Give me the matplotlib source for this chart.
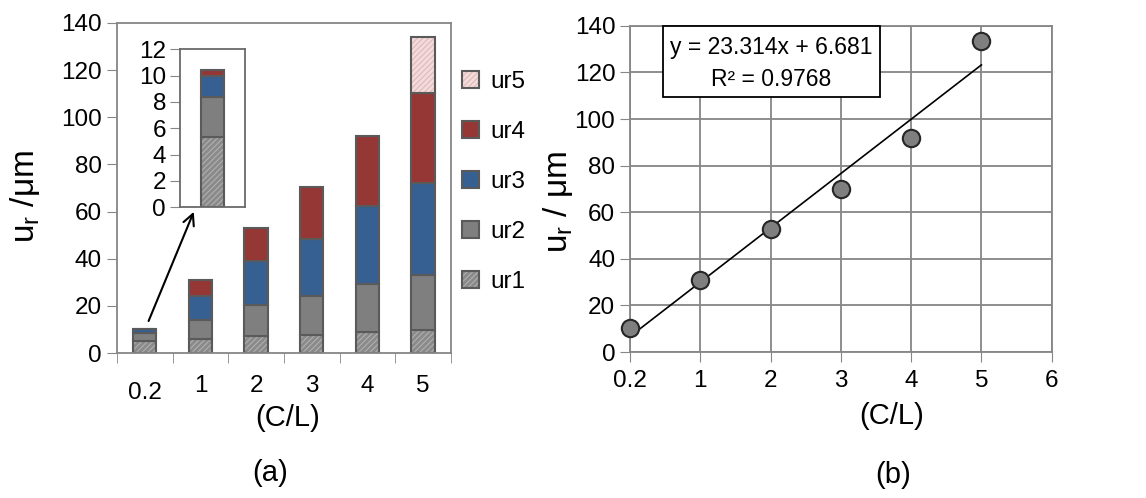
import numpy as np
import matplotlib
matplotlib.use("Agg")
import matplotlib.pyplot as plt
from matplotlib.patches import Patch, Rectangle
from matplotlib.legend_handler import HandlerTuple
import matplotlib.transforms as mtransforms

plt.rcParams['font.family'] = ['Liberation Sans', 'DejaVu Sans']
plt.rcParams['mathtext.fontset'] = 'custom'
plt.rcParams['mathtext.rm'] = 'Liberation Sans'
plt.rcParams['mathtext.it'] = 'Liberation Sans:italic'
plt.rcParams['hatch.linewidth'] = 0.8

# data
cl_labels = ['0.2', '1', '2', '3', '4', '5']
ur1 = [5.3, 5.9, 7.1, 7.8, 8.9, 9.9]
ur2 = [3.1, 8.0, 13.4, 16.2, 20.5, 23.3]
ur3 = [1.6, 10.1, 18.7, 24.4, 32.8, 38.9]
ur4 = [0.4, 7.1, 13.8, 21.9, 30.0, 38.2]
ur5 = [0.0, 0.0, 0.0, 0.0, 0.0, 23.6]
series_names = ['ur1', 'ur2', 'ur3', 'ur4', 'ur5']
total_ur = [10.3, 31.0, 53.0, 70.0, 92.0, 133.5]
x_ticks_b = ['0.2', '1', '2', '3', '4', '5', '6']
fit_text = ['y = 23.314x + 6.681', 'R\u00b2 = 0.9768']

colors = ['#8a8a8a', '#7f7f7f', '#376092', '#953735', '#f2dcdb']
hatches = ['//////', None, None, None, '//////']
hatch_cols = ['#b0b0b0', None, None, None, '#e0b8b8']
edge = '#5a5a5a'
spine_col = '#868686'
fs = 17.5

fig = plt.figure(figsize=(11.46, 4.98), dpi=100)

# ---------- (a) stacked bars ----------
ax = fig.add_axes([0.102, 0.291, 0.2915, 0.663])
series = [ur1, ur2, ur3, ur4, ur5]
xpos = np.arange(len(cl_labels))
width = 0.42


def stacked(axis, idx, data_list, w):
    handles = []
    bottom = np.zeros(len(idx))
    for vals, c, h, hc in zip(data_list, colors, hatches, hatch_cols):
        vals = np.asarray(vals, dtype=float)
        v = vals[idx]
        m = v > 0
        xs = np.arange(len(idx))
        if h:
            axis.bar(xs[m], v[m], w, bottom=bottom[m], color=c, hatch=h,
                     edgecolor=hc, linewidth=0)
        else:
            axis.bar(xs[m], v[m], w, bottom=bottom[m], color=c, linewidth=0)
        axis.bar(xs[m], v[m], w, bottom=bottom[m], fill=False,
                 edgecolor=edge, linewidth=1.5)
        bottom = bottom + v
        fill = Patch(facecolor=c, hatch=h, edgecolor=hc if h else c, linewidth=0)
        outline = Patch(fill=False, edgecolor=edge, linewidth=1.5)
        handles.append((fill, outline))
    return handles


handles = stacked(ax, xpos, series, width)
ax.set_xlim(-0.5, len(cl_labels) - 0.5)
ax.set_ylim(0, 140)
ax.set_yticks(np.arange(0, 141, 20))
ax.set_xticks(xpos)
ax.set_xticklabels(cl_labels)
ax.set_xticks(np.arange(-0.5, len(cl_labels), 1), minor=True)
ax.tick_params(axis='x', which='major', length=0, pad=16, labelsize=fs)
ax.tick_params(axis='x', which='minor', length=7, color=spine_col, direction='out')
ax.tick_params(axis='y', length=7, color=spine_col, labelsize=fs, pad=4)
for s in ax.spines.values():
    s.set_color(spine_col)
    s.set_linewidth(1.3)
# "0.2" sits a bit lower in the original
lab0 = ax.get_xticklabels()[0]
lab0.set_transform(lab0.get_transform() +
                   mtransforms.ScaledTranslation(0, -5 / 72, fig.dpi_scale_trans))

leg = ax.legend(handles[::-1], series_names[::-1],
                handler_map={tuple: HandlerTuple(ndivide=1, pad=0)},
                loc='upper left', bbox_to_anchor=(462 / 1146, 1 - 71 / 498),
                bbox_transform=fig.transFigure, frameon=False, fontsize=fs,
                handlelength=0.7, handleheight=0.7, handletextpad=0.45,
                labelspacing=1.15, borderpad=0, borderaxespad=0)

# inset for the 0.2 bar
axi = fig.add_axes([0.157, 0.584, 0.0567, 0.317])
stacked(axi, np.array([0]), series, 0.36)
axi.set_xlim(-0.5, 0.5)
axi.set_ylim(0, 12)
axi.set_yticks(np.arange(0, 13, 2))
axi.set_xticks([])
axi.tick_params(axis='y', length=7, color=spine_col, labelsize=fs, pad=3)
for s in axi.spines.values():
    s.set_color('#6a6a6a')
    s.set_linewidth(1.3)

ax.annotate('', xy=(0.9, 61), xytext=(0.05, 12.5),
            arrowprops=dict(arrowstyle='->', color='black', lw=1.5,
                            mutation_scale=20))

fig.text(25 / 1146, 1 - 197 / 498, r'$\mathregular{u_r}$ /μm', rotation=90,
         ha='center', va='center', fontsize=24)
fig.text(288 / 1146, 1 - 418 / 498, '(C/L)', ha='center', va='center', fontsize=21)
fig.text(270 / 1146, 1 - 473 / 498, '(a)', ha='center', va='center', fontsize=21)

# ---------- (b) scatter with linear fit ----------
bx = fig.add_axes([0.5497, 0.293, 0.368, 0.655])
xb = np.arange(len(total_ur))
bx.set_axisbelow(True)
bx.grid(True, color=spine_col, linewidth=1.3)
coef = np.polyfit(xb, total_ur, 1)
xl = np.array([xb[0], xb[-1]])
bx.plot(xl, np.polyval(coef, xl), color='black', lw=1.2, zorder=3)
bx.plot(xb, total_ur, 'o', ms=12.5, mfc='#7f7f7f', mec='#262626', mew=1.5,
        zorder=4, clip_on=False)
bx.set_xlim(0, 6)
bx.set_ylim(0, 140)
bx.set_xticks(np.arange(len(x_ticks_b)))
bx.set_xticklabels(x_ticks_b)
bx.set_yticks(np.arange(0, 141, 20))
bx.tick_params(length=7, color=spine_col, labelsize=fs)
bx.tick_params(axis='x', pad=6)
for s in bx.spines.values():
    s.set_color(spine_col)
    s.set_linewidth(1.3)

box = Rectangle((33 / 422, 1 - 71 / 326), 217 / 422, 71 / 326,
                transform=bx.transAxes, facecolor='white', edgecolor='black',
                linewidth=1.3, zorder=5, clip_on=False)
bx.add_patch(box)
bx.text(141.5 / 422, 1 - 22 / 326, fit_text[0], transform=bx.transAxes,
        ha='center', va='center', fontsize=16.5, zorder=6)
bx.text(141.5 / 422, 1 - 54 / 326, fit_text[1], transform=bx.transAxes,
        ha='center', va='center', fontsize=16.5, zorder=6)

fig.text(558 / 1146, 1 - 202 / 498, r'$\mathregular{u_r}$ / μm', rotation=90,
         ha='center', va='center', fontsize=24)
fig.text(892 / 1146, 1 - 416 / 498, '(C/L)', ha='center', va='center', fontsize=21)
fig.text(893 / 1146, 1 - 475 / 498, '(b)', ha='center', va='center', fontsize=21)

fig.savefig('out.png', dpi=100)
